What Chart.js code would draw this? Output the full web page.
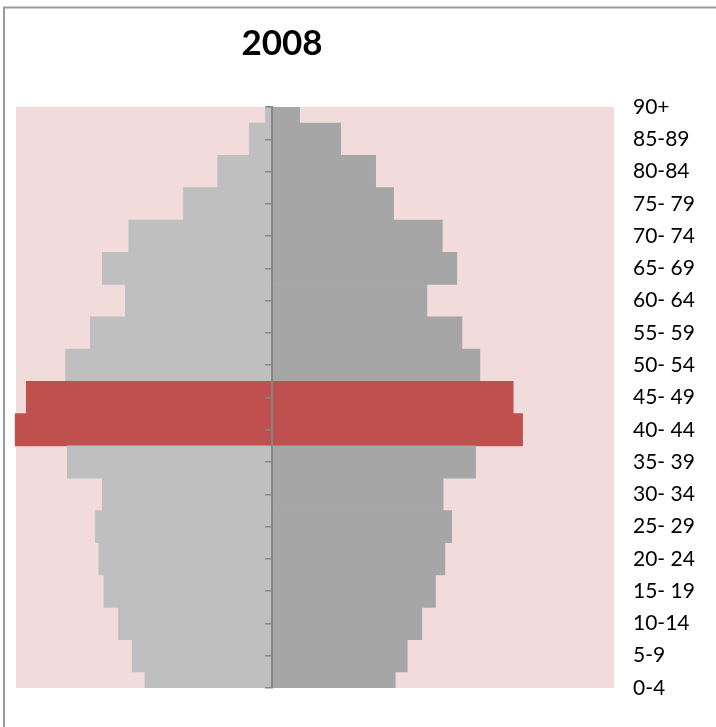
<!DOCTYPE html>
<html>
<head>
<meta charset="utf-8">
<script src="https://cdn.jsdelivr.net/npm/chart.js@4.4.1/dist/chart.umd.min.js"></script>
<style>
  html, body { margin: 0; padding: 0; background: #ffffff; }
  canvas { display: block; }
</style>
</head>
<body>
<canvas id="c" width="716" height="727"></canvas>
<script>
// ---- data ----
const chartTitle = '2008';
const ageGroups = ['90+', '85-89', '80-84', '75- 79', '70- 74', '65- 69', '60- 64', '55- 59', '50- 54',
  '45- 49', '40- 44', '35- 39', '30- 34', '25- 29', '20- 24', '15- 19', '10-14', '5-9', '0-4'];
const leftValues = [0.08, 0.27, 0.64, 1.04, 1.68, 1.99, 1.72, 2.13, 2.42,
  2.88, 3.01, 2.40, 1.99, 2.07, 2.03, 1.97, 1.80, 1.64, 1.49];
const rightValues = [0.32, 0.80, 1.21, 1.42, 1.99, 2.16, 1.81, 2.22, 2.43,
  2.82, 2.93, 2.38, 2.00, 2.10, 2.02, 1.91, 1.75, 1.58, 1.44];
const highlightGroups = ['45- 49', '40- 44'];
const xMin = -3;
const xMax = 4;

// ---- styles ----
const RED = '#c0504d';
const LEFT_GRAY = '#bfbfbf';
const RIGHT_GRAY = '#a6a6a6';
const PINK = '#f2dcdb';
const AXIS_GRAY = '#868686';
const FONT = 'Lato, "Open Sans", "DejaVu Sans", sans-serif';

const decorPlugin = {
  id: 'decor',
  beforeDraw(chart) {
    const ctx = chart.ctx;
    const a = chart.chartArea;
    ctx.save();
    ctx.fillStyle = PINK;
    ctx.fillRect(a.left, a.top, a.right - a.left, a.bottom - a.top);
    // frame
    ctx.strokeStyle = '#9a9a9a';
    ctx.lineWidth = 2;
    ctx.beginPath();
    ctx.moveTo(4, chart.height);
    ctx.lineTo(4, 7.5);
    ctx.lineTo(chart.width, 7.5);
    ctx.stroke();
    // title
    ctx.fillStyle = '#000000';
    ctx.font = 'bold 35px ' + FONT;
    ctx.textAlign = 'center';
    ctx.textBaseline = 'middle';
    ctx.fillText(chartTitle, 282, 44);
    ctx.restore();
  }
};

new Chart(document.getElementById('c'), {
  type: 'bar',
  data: {
    labels: ageGroups,
    datasets: [
      {
        label: 'left',
        data: leftValues.map(v => -v),
        backgroundColor: ctx => highlightGroups.includes(ageGroups[ctx.dataIndex]) ? RED : LEFT_GRAY,
        borderWidth: 0,
        barPercentage: 1,
        categoryPercentage: 1,
        clip: { left: 2, right: 0, top: 0, bottom: 0 }
      },
      {
        label: 'right',
        data: rightValues,
        backgroundColor: ctx => highlightGroups.includes(ageGroups[ctx.dataIndex]) ? RED : RIGHT_GRAY,
        borderWidth: 0,
        barPercentage: 1,
        categoryPercentage: 1,
        clip: { left: 2, right: 0, top: 0, bottom: 0 }
      }
    ]
  },
  options: {
    indexAxis: 'y',
    responsive: false,
    animation: false,
    layout: { padding: { left: 16, right: 0, top: 107, bottom: 39 } },
    plugins: {
      legend: { display: false },
      title: { display: false },
      tooltip: { enabled: false }
    },
    scales: {
      x: {
        type: 'linear',
        min: xMin,
        max: xMax,
        stacked: true,
        display: false
      },
      y: {
        type: 'category',
        stacked: true,
        offset: false,
        position: { x: 0 },
        grid: {
          display: true,
          drawOnChartArea: false,
          drawTicks: true,
          tickLength: 6,
          offset: false,
          color: AXIS_GRAY,
          lineWidth: 1.5,
          z: 1
        },
        border: { display: true, color: AXIS_GRAY, width: 2, z: 1 },
        ticks: { display: false },
        afterFit(s) { s.paddingTop = 0; s.paddingBottom = 0; }
      },
      yLabels: {
        type: 'category',
        axis: 'y',
        offset: false,
        position: 'right',
        grid: { display: false, drawTicks: false },
        border: { display: false },
        ticks: {
          padding: 19,
          color: '#000000',
          font: { family: FONT, size: 21 }
        },
        afterFit(s) { s.width = 102; s.paddingTop = 0; s.paddingBottom = 0; }
      }
    }
  },
  plugins: [decorPlugin]
});
</script>
</body>
</html>
